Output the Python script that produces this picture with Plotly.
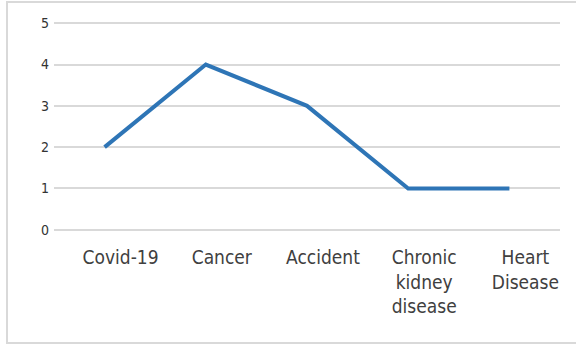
import plotly.graph_objects as go

# Leading causes and their counts
categories = ["Covid-19", "Cancer", "Accident", "Chronic<br>kidney<br>disease", "Heart<br>Disease"]
values = [2, 4, 3, 1, 1]
y_ticks = [0, 1, 2, 3, 4, 5]

W, H = 576, 345
L, R, T, B = 54, 16, 22, 114
pw, ph = W - L - R, H - T - B
pad = 0.03  # keeps the 0 and 5 gridlines inside the plot area

fig = go.Figure()
fig.add_trace(go.Scatter(
    x=list(range(len(categories))),
    y=values,
    mode="lines",
    line=dict(color="#2e75b6", width=4),
    hoverinfo="skip",
))

fig.update_xaxes(
    range=[-0.5, len(categories) - 0.5],
    tickmode="array",
    tickvals=list(range(len(categories))),
    ticktext=categories,
    showgrid=False,
    zeroline=False,
    showline=False,
    ticks="",
    ticklabelstandoff=13,
    ticklabelshift=16,
    tickfont=dict(family="DejaVu Sans Condensed", size=19, color="#404040"),
    fixedrange=True,
)
fig.update_yaxes(
    range=[-pad, 5 + pad],
    tickmode="array",
    tickvals=y_ticks,
    showgrid=True,
    gridcolor="#d9d9d9",
    gridwidth=1.5,
    zeroline=False,
    showline=False,
    ticks="",
    ticklabelstandoff=4,
    tickfont=dict(family="DejaVu Sans Condensed", size=14, color="#333333"),
    fixedrange=True,
)

# Light frame around the chart area
def px_x(p):
    return (p - L) / pw

def px_y(p):
    return (H - B - p) / ph

fig.add_shape(
    type="rect", xref="paper", yref="paper",
    x0=px_x(7), x1=px_x(590), y0=px_y(343), y1=px_y(2),
    line=dict(color="#d9d9d9", width=2),
    fillcolor="rgba(0,0,0,0)",
    layer="below",
)

fig.update_layout(
    width=W, height=H,
    margin=dict(l=L, r=R, t=T, b=B, pad=0),
    paper_bgcolor="white",
    plot_bgcolor="white",
    showlegend=False,
)

fig.write_html("out.html", config={"displayModeBar": False})
